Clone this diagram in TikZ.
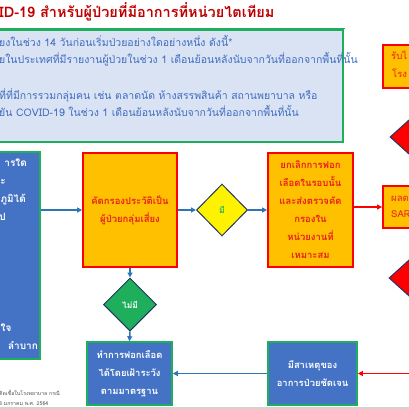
\documentclass[tikz,border=0pt]{standalone}
\usepackage{fontspec}
\setmainfont[Script=Thai]{Loma}
\usetikzlibrary{shapes.geometric,arrows.meta}
\definecolor{boxblue}{HTML}{4472C4}
\definecolor{boxgreen}{HTML}{1FAE5B}
\definecolor{lightblue}{HTML}{DAE3F3}
\definecolor{orangefill}{HTML}{FFC000}
\definecolor{redline}{HTML}{FF0000}
\definecolor{navy}{HTML}{203864}
\definecolor{arrowblue}{HTML}{2E75B6}
\definecolor{titlered}{HTML}{C00000}
\definecolor{textblue}{HTML}{3F6DC0}
\definecolor{orangetext}{HTML}{E8201A}
\definecolor{notegray}{HTML}{505050}
\tikzset{
  bluebox/.style={draw=boxgreen, line width=1.6pt, fill=boxblue, text=white, inner sep=0pt, align=center, font=\fontsize{9.4}{18}\selectfont\bfseries},
  orangebox/.style={draw=redline, line width=1.8pt, fill=orangefill, text=orangetext, inner sep=0pt, align=center, font=\fontsize{9.5}{18}\selectfont\bfseries},
  decision/.style={diamond, draw=navy, line width=1pt, inner sep=0pt, font=\fontsize{8.5}{10}\selectfont\bfseries},
  bluearrow/.style={draw=arrowblue, line width=1.5pt, -{Triangle[length=5pt,width=5pt]}},
  redarrow/.style={draw=redline, line width=1.5pt, -{Triangle[length=5pt,width=5pt]}},
  toptext/.style={anchor=mid west, inner sep=0pt, text=textblue, font=\fontsize{10.5}{12}\selectfont},
  lefttext/.style={anchor=mid east, inner sep=0pt, text=white, font=\fontsize{10}{12}\selectfont\bfseries},
  notetext/.style={anchor=mid west, inner sep=0pt, text=notegray, font=\fontsize{5.2}{6}\selectfont},
  cuttext/.style={anchor=mid west, inner sep=0pt, text=orangetext, font=\fontsize{9.5}{11}\selectfont},
}
\begin{document}
\begin{tikzpicture}[x=1pt,y=-1pt]
\useasboundingbox (0,0) rectangle (409,409);
\fill[white] (0,0) rectangle (409,409);
% title
\node[anchor=mid west, inner sep=0pt, text=titlered, font=\fontsize{14.5}{16}\selectfont\bfseries] (title) at (-1,15) {ID-19 สำหรับผู้ป่วยที่มีอาการที่หน่วยไตเทียม};
\draw[boxgreen, line width=1.5pt] (0,28.5) -- (345,28.5);
% top criteria box
\node[draw=boxgreen, line width=1.6pt, fill=lightblue, inner sep=0pt, minimum width=350pt, minimum height=112pt] (crit) at (168,86) {};
\node[toptext] (t1) at (-1,44) {ยงในช่วง 14 วันก่อนเริ่มป่วยอย่างใดอย่างหนึ่ง ดังนี้*};
\node[toptext] (t2) at (-1,61) {ยในประเทศที่มีรายงานผู้ป่วยในช่วง 1 เดือนย้อนหลังนับจากวันที่ออกจากพื้นที่นั้น};
\node[toptext] (t3) at (-1,97) {ที่ที่มีการรวมกลุ่มคน เช่น ตลาดนัด ห้างสรรพสินค้า สถานพยาบาล หรือ};
\node[toptext] (t4) at (-1,114) {ยัน COVID-19 ในช่วง 1 เดือนย้อนหลังนับจากวันที่ออกจากพื้นที่นั้น};
% left symptom box
\node[bluebox, minimum width=47pt, minimum height=207pt] (symp) at (16.5,255.5) {};
\node[lefttext] (s1) at (27,164) {ารใด};
\node[lefttext] (s2) at (6,182) {ะ};
\node[lefttext] (s3) at (26,200) {ภูมิได้};
\node[lefttext] (s4) at (6,218) {ป};
\node[lefttext, anchor=mid west] (s5) at (0.5,329) {ใจ};
\node[lefttext] (s6) at (38,347) {ลำบาก};
% screening box
\node[orangebox, minimum width=94pt, minimum height=114pt] (screen) at (130,210) {คัดกรองประวัติเป็น\\ผู้ป่วยกลุ่มเสี่ยง};
% yes diamond
\node[decision, fill=yellow, text=boxgreen, minimum width=51pt, minimum height=52pt] (yes) at (222,210) {มี};
% cancel box
\node[orangebox, minimum width=85pt, minimum height=114pt] (cancel) at (310.5,210) {ยกเลิกการฟอก\\เลือดในรอบนั้น\\และส่งตรวจคัด\\กรองใน\\หน่วยงานที่\\เหมาะสม};
% result box (cut)
\node[draw=redline, line width=1.8pt, fill=orangefill, inner sep=0pt, minimum width=34pt, minimum height=42pt] (result) at (400,207) {};
\node[cuttext] (r1) at (391,199) {ผลต};
\node[cuttext] (r2) at (391,215) {SAR};
% admit box (cut)
\node[draw=redline, line width=1.8pt, fill=orangefill, inner sep=0pt, minimum width=34pt, minimum height=43pt] (admit) at (400,66.5) {};
\node[cuttext] (a1) at (391,57) {รับไ};
\node[cuttext] (a2) at (392,75) {โรง};
% red diamonds (cut)
\node[decision, fill=redline, minimum width=84pt, minimum height=76pt] (rd1) at (432,137) {};
\node[decision, fill=redline, minimum width=84pt, minimum height=76pt] (rd2) at (431,278) {};
% no diamond
\node[decision, fill=boxgreen, text=white, minimum width=53pt, minimum height=53pt] (no) at (130,304.5) {ไม่มี};
% dialysis box
\node[bluebox, minimum width=85pt, minimum height=63pt] (dial) at (129.5,373.5) {ทำการฟอกเลือด\\ได้โดยเฝ้าระวัง\\ตามมาตรฐาน};
% cause box
\node[bluebox, minimum width=89pt, minimum height=63pt] (cause) at (312.5,373.5) {มีสาเหตุของ\\อาการป่วยชัดเจน};
% footnote
\node[notetext] (n1) at (-1,393) {ติดเชื้อในโรงพยาบาล กรณี};
\node[notetext] (n2) at (-1,403) {8 มกราคม พ.ศ. 2564};
% connectors
\draw[bluearrow] (screen.west -| symp.east) -- (screen.west);
\draw[bluearrow] (screen.east) -- (yes.west);
\draw[bluearrow] (yes.east) -- (cancel.west);
\draw[redarrow] (result.west -| cancel.east) -- (result.west);
\draw[bluearrow] (screen.south) -- (no.north);
\draw[bluearrow] (no.south) -- (dial.north);
\coordinate (redin) at (412,373.5);
\draw[redarrow] (redin) -- (cause.east);
\draw[bluearrow] (cause.west) -- (dial.east);
% bottom strip
\fill[gray!35] (0,406.5) rectangle (409,409);
\end{tikzpicture}
\end{document}
